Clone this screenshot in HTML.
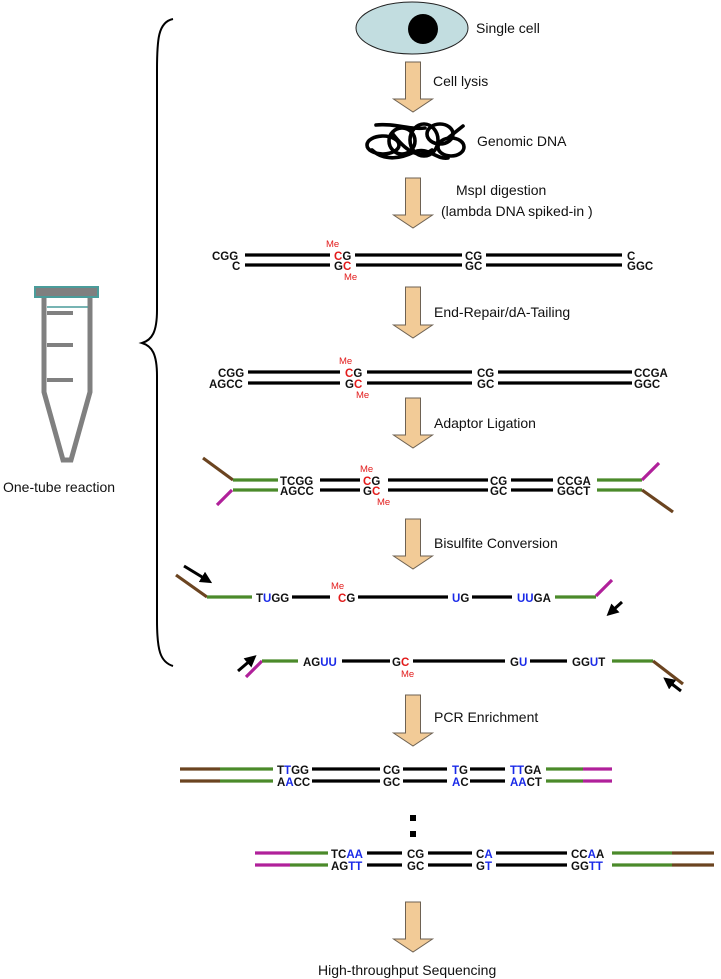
<!DOCTYPE html>
<html><head><meta charset="utf-8"><style>
html,body{margin:0;padding:0;background:#fff}
svg{display:block}
.l{font-family:"Liberation Sans",Arial,sans-serif;font-size:14px;fill:#111}
.d{font-family:"Liberation Sans",Arial,sans-serif;font-size:11.5px;font-weight:bold;fill:#111}
.me{font-family:"Liberation Sans",Arial,sans-serif;font-size:9.5px;fill:#e21b1b}
.r{fill:#e21b1b}.b{fill:#1a2ae8}
.k{stroke:#000;stroke-width:3.2}
.g{stroke:#4b8a2a;stroke-width:3.2}
.br{stroke:#6b4420;stroke-width:3.2}
.m{stroke:#b0209a;stroke-width:3.2}
.ar{fill:#f2cb97;stroke:#6e6253;stroke-width:1}
</style></head><body>
<svg width="721" height="979" viewBox="0 0 721 979" xmlns="http://www.w3.org/2000/svg">
<defs>
<marker id="ah" markerWidth="4" markerHeight="4" refX="2" refY="2" orient="auto" markerUnits="strokeWidth"><path d="M0,0 L4,2 L0,4 z" fill="#000"/></marker>
</defs>
<!-- brace -->
<path d="M173,19 C158,22 157,40 157,70 L157,310 C157,332 152,340 142,343 C152,346 157,354 157,376 L157,620 C157,650 160,662 173,666" fill="none" stroke="#000" stroke-width="2"/>
<!-- tube -->
<rect x="35" y="287" width="63" height="10" fill="#7f7f7f" stroke="#4a9c9a" stroke-width="2"/>
<path d="M44,298 L44,392 L63,460 L71,460 L90,392 L90,298" fill="none" stroke="#808080" stroke-width="5"/>
<line x1="47" y1="313" x2="73" y2="313" stroke="#808080" stroke-width="4"/>
<line x1="47" y1="345" x2="73" y2="345" stroke="#808080" stroke-width="4"/>
<line x1="47" y1="380" x2="73" y2="380" stroke="#808080" stroke-width="4"/>
<line x1="47" y1="307" x2="88" y2="307" stroke="#4a9c9a" stroke-width="1.5"/>
<text class="l" x="3" y="492">One-tube reaction</text>
<!-- cell -->
<ellipse cx="412" cy="28" rx="56" ry="26" fill="#c2dde0" stroke="#222" stroke-width="1"/>
<circle cx="423" cy="29" r="15" fill="#000"/>
<text class="l" x="476" y="33">Single cell</text>
<!-- arrows -->
<g class="ar">
<path d="M405.5,62 h15 v37 h12 l-19.5,13 l-19.5,-13 h12 z"/>
<path d="M405.5,178 h15 v37 h12 l-19.5,13 l-19.5,-13 h12 z"/>
<path d="M405.5,287 h15 v38 h12 l-19.5,13 l-19.5,-13 h12 z"/>
<path d="M405.5,398 h15 v37 h12 l-19.5,13 l-19.5,-13 h12 z"/>
<path d="M405.5,519 h15 v37 h12 l-19.5,13 l-19.5,-13 h12 z"/>
<path d="M405.5,695 h15 v38 h12 l-19.5,13 l-19.5,-13 h12 z"/>
<path d="M405.5,902 h15 v37 h12 l-19.5,13 l-19.5,-13 h12 z"/>
</g>
<text class="l" x="433" y="86">Cell lysis</text>
<text class="l" x="477" y="146">Genomic DNA</text>
<text class="l" x="456" y="195">MspI digestion</text>
<text class="l" x="441" y="216">(lambda DNA spiked-in )</text>
<text class="l" x="434" y="317">End-Repair/dA-Tailing</text>
<text class="l" x="434" y="428">Adaptor Ligation</text>
<text class="l" x="434" y="548">Bisulfite Conversion</text>
<text class="l" x="434" y="722">PCR Enrichment</text>
<text class="l" x="318" y="975">High-throughput Sequencing</text>
<!-- genomic DNA tangle -->
<g fill="none" stroke="#000" stroke-width="3.6" stroke-linecap="round">
<path d="M376,125 C395,123 410,130 425,128"/>
<path d="M448,138 L463,126"/>
<ellipse cx="383" cy="145" rx="16" ry="9"/>
<ellipse cx="402" cy="141" rx="13" ry="13"/>
<ellipse cx="424" cy="140" rx="14" ry="16"/>
<ellipse cx="440" cy="134" rx="13" ry="10"/>
<ellipse cx="451" cy="147" rx="13" ry="9"/>
<path d="M372,150 C385,162 402,158 414,152 C428,146 436,160 448,158"/>
<path d="M392,133 C405,150 418,160 432,150"/>
</g>
<!-- Row1 -->
<g>
<line class="k" x1="245" y1="255" x2="330" y2="255"/><line class="k" x1="245" y1="265" x2="330" y2="265"/>
<line class="k" x1="355" y1="255" x2="462" y2="255"/><line class="k" x1="356" y1="265" x2="462" y2="265"/>
<line class="k" x1="486" y1="255" x2="622" y2="255"/><line class="k" x1="486" y1="265" x2="622" y2="265"/>
<text class="d" x="212" y="260">CGG</text><text class="d" x="232" y="270">C</text>
<text class="me" x="326" y="247">Me</text>
<text class="d" x="334" y="260"><tspan class="r">C</tspan>G</text>
<text class="d" x="334" y="270">G<tspan class="r">C</tspan></text>
<text class="me" x="344" y="280">Me</text>
<text class="d" x="465" y="260">CG</text><text class="d" x="465" y="270">GC</text>
<text class="d" x="627" y="260">C</text><text class="d" x="627" y="270">GGC</text>
</g>
<!-- Row2 -->
<g>
<line class="k" x1="248" y1="372" x2="340" y2="372"/><line class="k" x1="248" y1="383" x2="340" y2="383"/>
<line class="k" x1="367" y1="372" x2="472" y2="372"/><line class="k" x1="367" y1="383" x2="472" y2="383"/>
<line class="k" x1="498" y1="372" x2="632" y2="372"/><line class="k" x1="498" y1="383" x2="632" y2="383"/>
<text class="d" x="218" y="377">CGG</text><text class="d" x="209" y="388">AGCC</text>
<text class="me" x="339" y="364">Me</text>
<text class="d" x="345" y="377"><tspan class="r">C</tspan>G</text>
<text class="d" x="345" y="388">G<tspan class="r">C</tspan></text>
<text class="me" x="356" y="398">Me</text>
<text class="d" x="477" y="377">CG</text><text class="d" x="477" y="388">GC</text>
<text class="d" x="634" y="377">CCGA</text><text class="d" x="634" y="388">GGC</text>
</g>
<!-- Row3 -->
<g>
<line class="br" x1="203" y1="458" x2="233" y2="480"/>
<line class="m" x1="217" y1="505" x2="232" y2="490"/>
<line class="g" x1="233" y1="480" x2="278" y2="480"/><line class="g" x1="233" y1="490" x2="278" y2="490"/>
<line class="k" x1="320" y1="480" x2="360" y2="480"/><line class="k" x1="320" y1="490" x2="360" y2="490"/>
<line class="k" x1="388" y1="480" x2="488" y2="480"/><line class="k" x1="388" y1="490" x2="488" y2="490"/>
<line class="k" x1="511" y1="480" x2="553" y2="480"/><line class="k" x1="511" y1="490" x2="553" y2="490"/>
<line class="g" x1="597" y1="480" x2="642" y2="480"/><line class="g" x1="597" y1="490" x2="642" y2="490"/>
<line class="m" x1="642" y1="480" x2="659" y2="463"/>
<line class="br" x1="642" y1="490" x2="673" y2="512"/>
<text class="d" x="280" y="485">TCGG</text><text class="d" x="280" y="495">AGCC</text>
<text class="me" x="360" y="472">Me</text>
<text class="d" x="363" y="485"><tspan class="r">C</tspan>G</text>
<text class="d" x="363" y="495">G<tspan class="r">C</tspan></text>
<text class="me" x="377" y="505">Me</text>
<text class="d" x="490" y="485">CG</text><text class="d" x="490" y="495">GC</text>
<text class="d" x="557" y="485">CCGA</text><text class="d" x="557" y="495">GGCT</text>
</g>
<!-- Row4 -->
<g>
<line x1="184" y1="566" x2="207" y2="580" stroke="#000" stroke-width="3" marker-end="url(#ah)"/>
<line class="br" x1="176" y1="575" x2="207" y2="597"/>
<line class="g" x1="207" y1="597" x2="252" y2="597"/>
<line class="k" x1="292" y1="597" x2="330" y2="597"/>
<line class="k" x1="358" y1="597" x2="448" y2="597"/>
<line class="k" x1="472" y1="597" x2="512" y2="597"/>
<line class="g" x1="555" y1="597" x2="596" y2="597"/>
<line class="m" x1="596" y1="596" x2="612" y2="580"/>
<line x1="622" y1="602" x2="611" y2="612" stroke="#000" stroke-width="3" marker-end="url(#ah)"/>
<text class="d" x="256" y="602">T<tspan class="b">U</tspan>GG</text>
<text class="me" x="331" y="589">Me</text>
<text class="d" x="338" y="602"><tspan class="r">C</tspan>G</text>
<text class="d" x="452" y="602"><tspan class="b">U</tspan>G</text>
<text class="d" x="517" y="602"><tspan class="b">UU</tspan>GA</text>
</g>
<!-- Row5 -->
<g>
<line x1="238" y1="671" x2="252" y2="659" stroke="#000" stroke-width="3" marker-end="url(#ah)"/>
<line class="m" x1="246" y1="677" x2="262" y2="661"/>
<line class="g" x1="262" y1="661" x2="298" y2="661"/>
<line class="k" x1="342" y1="661" x2="390" y2="661"/>
<line class="k" x1="413" y1="661" x2="505" y2="661"/>
<line class="k" x1="530" y1="661" x2="567" y2="661"/>
<line class="g" x1="612" y1="661" x2="653" y2="661"/>
<line class="br" x1="653" y1="661" x2="683" y2="684"/>
<line x1="681" y1="691" x2="668" y2="681" stroke="#000" stroke-width="3" marker-end="url(#ah)"/>
<text class="d" x="303" y="666">AG<tspan class="b">UU</tspan></text>
<text class="d" x="392" y="666">G<tspan class="r">C</tspan></text>
<text class="me" x="401" y="677">Me</text>
<text class="d" x="510" y="666">G<tspan class="b">U</tspan></text>
<text class="d" x="572" y="666">GG<tspan class="b">U</tspan>T</text>
</g>
<!-- Row6 -->
<g>
<line class="br" x1="180" y1="769" x2="220" y2="769"/><line class="br" x1="180" y1="781" x2="220" y2="781"/>
<line class="g" x1="220" y1="769" x2="273" y2="769"/><line class="g" x1="220" y1="781" x2="273" y2="781"/>
<line class="k" x1="312" y1="769" x2="380" y2="769"/><line class="k" x1="312" y1="781" x2="380" y2="781"/>
<line class="k" x1="403" y1="769" x2="447" y2="769"/><line class="k" x1="403" y1="781" x2="447" y2="781"/>
<line class="k" x1="470" y1="769" x2="505" y2="769"/><line class="k" x1="470" y1="781" x2="505" y2="781"/>
<line class="g" x1="546" y1="769" x2="583" y2="769"/><line class="g" x1="546" y1="781" x2="583" y2="781"/>
<line class="m" x1="583" y1="769" x2="612" y2="769"/><line class="m" x1="583" y1="781" x2="612" y2="781"/>
<text class="d" x="277" y="774">T<tspan class="b">T</tspan>GG</text><text class="d" x="277" y="786">A<tspan class="b">A</tspan>CC</text>
<text class="d" x="383" y="774">CG</text><text class="d" x="383" y="786">GC</text>
<text class="d" x="452" y="774"><tspan class="b">T</tspan>G</text><text class="d" x="452" y="786"><tspan class="b">A</tspan>C</text>
<text class="d" x="510" y="774"><tspan class="b">TT</tspan>GA</text><text class="d" x="510" y="786"><tspan class="b">AA</tspan>CT</text>
</g>
<rect x="410" y="815" width="6" height="6" fill="#000"/>
<rect x="410" y="831" width="6" height="6" fill="#000"/>
<!-- Row7 -->
<g>
<line class="m" x1="255" y1="853" x2="290" y2="853"/><line class="m" x1="255" y1="865" x2="290" y2="865"/>
<line class="g" x1="290" y1="853" x2="328" y2="853"/><line class="g" x1="290" y1="865" x2="328" y2="865"/>
<line class="k" x1="367" y1="853" x2="402" y2="853"/><line class="k" x1="367" y1="865" x2="402" y2="865"/>
<line class="k" x1="428" y1="853" x2="472" y2="853"/><line class="k" x1="428" y1="865" x2="472" y2="865"/>
<line class="k" x1="496" y1="853" x2="567" y2="853"/><line class="k" x1="496" y1="865" x2="567" y2="865"/>
<line class="g" x1="612" y1="853" x2="672" y2="853"/><line class="g" x1="612" y1="865" x2="672" y2="865"/>
<line class="br" x1="672" y1="853" x2="714" y2="853"/><line class="br" x1="672" y1="865" x2="714" y2="865"/>
<text class="d" x="331" y="858">TC<tspan class="b">AA</tspan></text><text class="d" x="331" y="870">AG<tspan class="b">TT</tspan></text>
<text class="d" x="407" y="858">CG</text><text class="d" x="407" y="870">GC</text>
<text class="d" x="476" y="858">C<tspan class="b">A</tspan></text><text class="d" x="476" y="870">G<tspan class="b">T</tspan></text>
<text class="d" x="571" y="858">CC<tspan class="b">A</tspan>A</text><text class="d" x="571" y="870">GG<tspan class="b">TT</tspan></text>
</g>
</svg>
</body></html>
